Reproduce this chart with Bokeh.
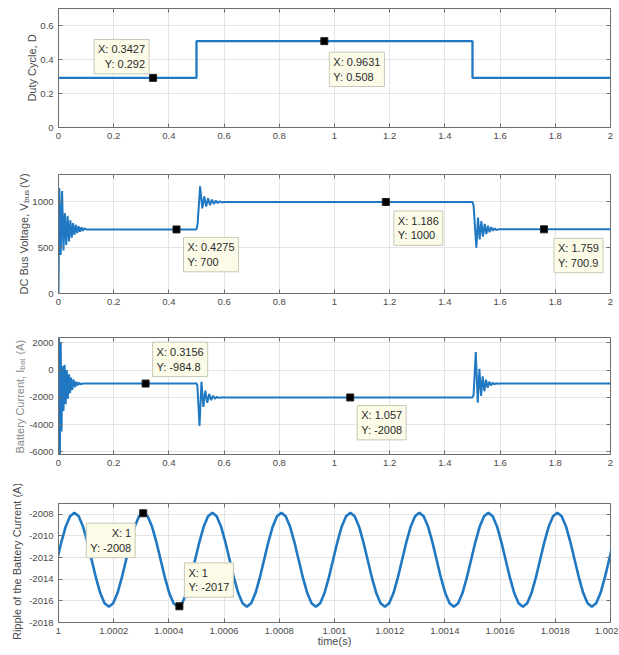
import math
from bokeh.plotting import figure
from bokeh.models import Label, FixedTicker, LinearAxis, Range1d
from bokeh.layouts import column
from bokeh.embed import file_html
from bokeh.resources import INLINE

# ---------------- data ----------------
duty_t = [0.0, 0.5, 1.5, 2.0]
duty_d = [0.292, 0.508, 0.292, 0.292]

bus_t = [0.0, 0.003, 0.008, 0.013, 0.018, 0.023, 0.028, 0.033, 0.038, 0.043,
         0.048, 0.053, 0.058, 0.063, 0.068, 0.073, 0.078, 0.083, 0.088, 0.093,
         0.1, 0.5, 0.504, 0.513, 0.521, 0.528, 0.535, 0.542, 0.549, 0.556,
         0.563, 0.570, 0.577, 0.584, 0.591, 0.6, 1.5, 1.504, 1.514, 1.520,
         1.526, 1.532, 1.538, 1.544, 1.550, 1.556, 1.562, 1.568, 1.574, 1.580,
         1.586, 1.594, 1.6, 2.0]
bus_v = [0, 1150, 420, 1120, 470, 880, 530, 850, 570, 800,
         610, 770, 640, 750, 660, 735, 675, 722, 685, 712,
         700, 700, 760, 1170, 930, 1060, 950, 1040, 965, 1025,
         978, 1015, 988, 1008, 995, 1000, 1000, 960, 500, 830,
         590, 790, 620, 760, 650, 740, 670, 725, 685, 713,
         693, 702, 700.9, 700.9]

bat_t = [0.0, 0.002, 0.005, 0.008, 0.011, 0.014, 0.018, 0.022, 0.026, 0.030,
         0.034, 0.038, 0.042, 0.046, 0.050, 0.055, 0.060, 0.065, 0.070, 0.075,
         0.080, 0.090, 0.1, 0.5, 0.503, 0.511, 0.518, 0.525, 0.532, 0.539,
         0.546, 0.553, 0.560, 0.567, 0.574, 0.581, 0.59, 0.6, 1.5, 1.504,
         1.512, 1.519, 1.525, 1.531, 1.537, 1.543, 1.549, 1.555, 1.561, 1.567,
         1.573, 1.579, 1.585, 1.592, 1.6, 2.0]
bat_i = [0, 2350, -6250, 2000, -4500, 300, -3000, 400, -2500, 0,
         -2100, -300, -1700, -550, -1450, -700, -1250, -850, -1120, -920,
         -1040, -975, -984.8, -984.8, -1100, -4100, -850, -2700, -1500, -2400,
         -1750, -2200, -1880, -2100, -1960, -2040, -2000, -2008, -2008, -1800,
         1330, -2400, 100, -1900, -450, -1550, -700, -1300, -850, -1120,
         -920, -1040, -960, -995, -984.8, -984.8]

ripple_t0 = 0.999995          # first sample time (s)
ripple_dt = 0.00025 / 16      # sample spacing (s)
ripple_i = [
    -2012.2, -2010.54, -2009.12, -2008.18, -2007.85, -2008.18, -2009.12, -2010.54,
    -2012.2, -2013.86, -2015.28, -2016.22, -2016.55, -2016.22, -2015.28, -2013.86,
    -2012.2, -2010.54, -2009.12, -2008.18, -2007.85, -2008.18, -2009.12, -2010.54,
    -2012.2, -2013.86, -2015.28, -2016.22, -2016.55, -2016.22, -2015.28, -2013.86,
    -2012.2, -2010.54, -2009.12, -2008.18, -2007.85, -2008.18, -2009.12, -2010.54,
    -2012.2, -2013.86, -2015.28, -2016.22, -2016.55, -2016.22, -2015.28, -2013.86,
    -2012.2, -2010.54, -2009.12, -2008.18, -2007.85, -2008.18, -2009.12, -2010.54,
    -2012.2, -2013.86, -2015.28, -2016.22, -2016.55, -2016.22, -2015.28, -2013.86,
    -2012.2, -2010.54, -2009.12, -2008.18, -2007.85, -2008.18, -2009.12, -2010.54,
    -2012.2, -2013.86, -2015.28, -2016.22, -2016.55, -2016.22, -2015.28, -2013.86,
    -2012.2, -2010.54, -2009.12, -2008.18, -2007.85, -2008.18, -2009.12, -2010.54,
    -2012.2, -2013.86, -2015.28, -2016.22, -2016.55, -2016.22, -2015.28, -2013.86,
    -2012.2, -2010.54, -2009.12, -2008.18, -2007.85, -2008.18, -2009.12, -2010.54,
    -2012.2, -2013.86, -2015.28, -2016.22, -2016.55, -2016.22, -2015.28, -2013.86,
    -2012.2, -2010.54, -2009.12, -2008.18, -2007.85, -2008.18, -2009.12, -2010.54,
    -2012.2, -2013.86, -2015.28, -2016.22, -2016.55, -2016.22, -2015.28, -2013.86,
    -2012.2, -2010.54,
]
ripple_t = [ripple_t0 + k * ripple_dt for k in range(len(ripple_i))]

main_x_ticks = [0.0, 0.2, 0.4, 0.6, 0.8, 1.0, 1.2, 1.4, 1.6, 1.8, 2.0]
main_x_labels = ["0", "0.2", "0.4", "0.6", "0.8", "1", "1.2", "1.4", "1.6", "1.8", "2"]
duty_y_ticks = [0.0, 0.2, 0.4, 0.6]
duty_y_labels = ["0", "0.2", "0.4", "0.6"]
bus_y_ticks = [0.0, 500.0, 1000.0]
bus_y_labels = ["0", "500", "1000"]
bat_y_ticks = [-6000.0, -4000.0, -2000.0, 0.0, 2000.0]
bat_y_labels = ["-6000", "-4000", "-2000", "0", "2000"]
ripple_x_ticks = [1.0, 1.0002, 1.0004, 1.0006, 1.0008, 1.001, 1.0012, 1.0014, 1.0016, 1.0018, 1.002]
ripple_x_labels = ["1", "1.0002", "1.0004", "1.0006", "1.0008", "1.001", "1.0012", "1.0014", "1.0016", "1.0018", "1.002"]
ripple_y_ticks = [-2018.0, -2016.0, -2014.0, -2012.0, -2010.0, -2008.0]
ripple_y_labels = ["-2018", "-2016", "-2014", "-2012", "-2010", "-2008"]

duty_tip_x = [0.3427, 0.9631]
duty_tip_y = [0.292, 0.508]
duty_tip_text = ["X: 0.3427\nY: 0.292", "X: 0.9631\nY: 0.508"]
bus_tip_x = [0.4275, 1.186, 1.759]
bus_tip_y = [700, 1000, 700.9]
bus_tip_text = ["X: 0.4275\nY: 700", "X: 1.186\nY: 1000", "X: 1.759\nY: 700.9"]
bat_tip_x = [0.3156, 1.057]
bat_tip_y = [-984.8, -2008]
bat_tip_text = ["X: 0.3156\nY: -984.8", "X: 1.057\nY: -2008"]
ripple_tip_x = [1.000307, 1.000438]
ripple_tip_y = [-2007.9, -2016.5]
ripple_tip_text = ["X: 1\nY: -2008", "X: 1\nY: -2017"]

NBSP5 = "\u00a0" * 5   # room left in the axis title for the subscript

# ---------------- style ----------------
FONT = "Liberation Sans"
LINE = "#1f78c1"
AX = "#6e6e6e"
GRID = "#e4e4e4"
TICKTXT = "#4a4a4a"
LABTXT = "#4a4a4a"


def make_fig(xr, yr, xt, xl, yt, yl, frame_h, top, bottom):
    p = figure(frame_width=552, frame_height=frame_h,
               x_range=Range1d(*xr), y_range=Range1d(*yr),
               output_backend="svg", toolbar_location=None,
               min_border_left=58, min_border_right=8,
               min_border_top=top, min_border_bottom=bottom,
               background_fill_color="white", border_fill_color="white")
    p.outline_line_color = AX
    p.outline_line_width = 1
    xtick = FixedTicker(ticks=xt)
    ytick = FixedTicker(ticks=yt)
    p.xaxis.ticker = xtick
    p.yaxis.ticker = ytick
    p.xgrid.ticker = xtick
    p.ygrid.ticker = ytick
    p.xaxis.major_label_overrides = dict(zip(xt, xl))
    p.yaxis.major_label_overrides = dict(zip(yt, yl))
    for ax in (p.xaxis[0], p.yaxis[0]):
        ax.axis_line_color = AX
        ax.major_tick_line_color = AX
        ax.major_tick_in = 4
        ax.major_tick_out = 0
        ax.minor_tick_line_color = None
        ax.major_label_text_font = FONT
        ax.major_label_text_font_size = "9.5px"
        ax.major_label_text_color = TICKTXT
        ax.major_label_standoff = 5
    # inward ticks on the top and right edges (boxed axes), without labels
    top_ax = LinearAxis(ticker=xtick, axis_line_color=None, major_tick_line_color=AX,
                        major_tick_in=4, major_tick_out=0, minor_tick_line_color=None,
                        major_label_text_color=None, major_label_text_font_size="1px",
                        major_label_standoff=0)
    right_ax = LinearAxis(ticker=ytick, axis_line_color=None, major_tick_line_color=AX,
                          major_tick_in=4, major_tick_out=0, minor_tick_line_color=None,
                          major_label_text_color=None, major_label_text_font_size="1px",
                          major_label_standoff=0)
    p.add_layout(top_ax, "above")
    p.add_layout(right_ax, "right")
    p.grid.grid_line_color = GRID
    p.grid.grid_line_width = 1
    return p


def add_tips(p, xs, ys, texts, placements):
    p.scatter(xs, ys, marker="square", size=7, fill_color="black", line_color="#222222")
    for x, y, t, (dx, dy, al, bl) in zip(xs, ys, texts, placements):
        p.add_layout(Label(x=x, y=y, text=t, x_offset=dx, y_offset=dy,
                           text_align=al, text_baseline=bl,
                           text_font=FONT, text_font_size="11px", text_color="#2b2b2b",
                           background_fill_color="#fbfbe8", background_fill_alpha=1.0,
                           border_line_color="#c8c8b8", border_line_width=1, padding=4))


def side_text(p, cx, cy, text, size="11px", align="center", base="middle",
              color=LABTXT, angle=math.pi / 2, place="left"):
    # placed in a side panel so that it is not clipped to the data frame
    p.add_layout(Label(x=cx, y=cy, x_units="canvas", y_units="canvas", text=text,
                       angle=angle, text_align=align, text_baseline=base,
                       text_font=FONT, text_font_size=size, text_color=color,
                       text_line_height=1.0), place)


# ---- panel 1: duty cycle ----
p1 = make_fig((0, 2), (0, 0.7), main_x_ticks, main_x_labels, duty_y_ticks, duty_y_labels, 119, 8, 30)
p1.step(duty_t, duty_d, mode="after", line_color=LINE, line_width=2.3)
add_tips(p1, duty_tip_x, duty_tip_y, duty_tip_text,
         [(-4, 4, "right", "bottom"), (5, -11, "left", "top")])
side_text(p1, 31, 67.5, "Duty Cycle, D")

# ---- panel 2: DC bus voltage ----
p2 = make_fig((0, 2), (0, 1300), main_x_ticks, main_x_labels, bus_y_ticks, bus_y_labels, 119, 17, 30)
p2.line(bus_t, bus_v, line_color=LINE, line_width=2.0)
add_tips(p2, bus_tip_x, bus_tip_y, bus_tip_text,
         [(7, -8, "left", "top"), (8, -9, "left", "top"), (10, -9, "left", "top")])
side_text(p2, 23, 137, "DC Bus Voltage, V" + NBSP5 + "(V)", align="left", base="alphabetic")
side_text(p2, 26, 45.3, "bus", size="8px", align="left", base="alphabetic")

# ---- panel 3: battery current ----
p3 = make_fig((0, 2), (-6200, 2400), main_x_ticks, main_x_labels, bat_y_ticks, bat_y_labels, 117, 14, 30)
p3.line(bat_t, bat_i, line_color=LINE, line_width=2.0)
add_tips(p3, bat_tip_x, bat_tip_y, bat_tip_text,
         [(7, 7, "left", "bottom"), (7, -8, "left", "top")])
side_text(p3, 19, 130, "Battery Current, I" + NBSP5 + "(A)", align="left", base="alphabetic",
          color="#8a8a8a")
side_text(p3, 22, 46.2, "bat", size="8px", align="left", base="alphabetic", color="#8a8a8a")

# ---- panel 4: ripple of the battery current ----
p4 = make_fig((1.0, 1.002), (-2018, -2007), ripple_x_ticks, ripple_x_labels,
              ripple_y_ticks, ripple_y_labels, 119, 19, 30)
p4.line(ripple_t, ripple_i, line_color=LINE, line_width=2.6)
add_tips(p4, ripple_tip_x, ripple_tip_y, ripple_tip_text,
         [(-8, -10, "right", "top"), (5, 9, "left", "bottom")])
side_text(p4, 16, 77, "Ripple of the Battery Current (A)")
side_text(p4, 334, 156, "time(s)", angle=0, place="below")

layout = column(p1, p2, p3, p4, spacing=0)
open("out.html", "w").write(file_html(layout, INLINE))
